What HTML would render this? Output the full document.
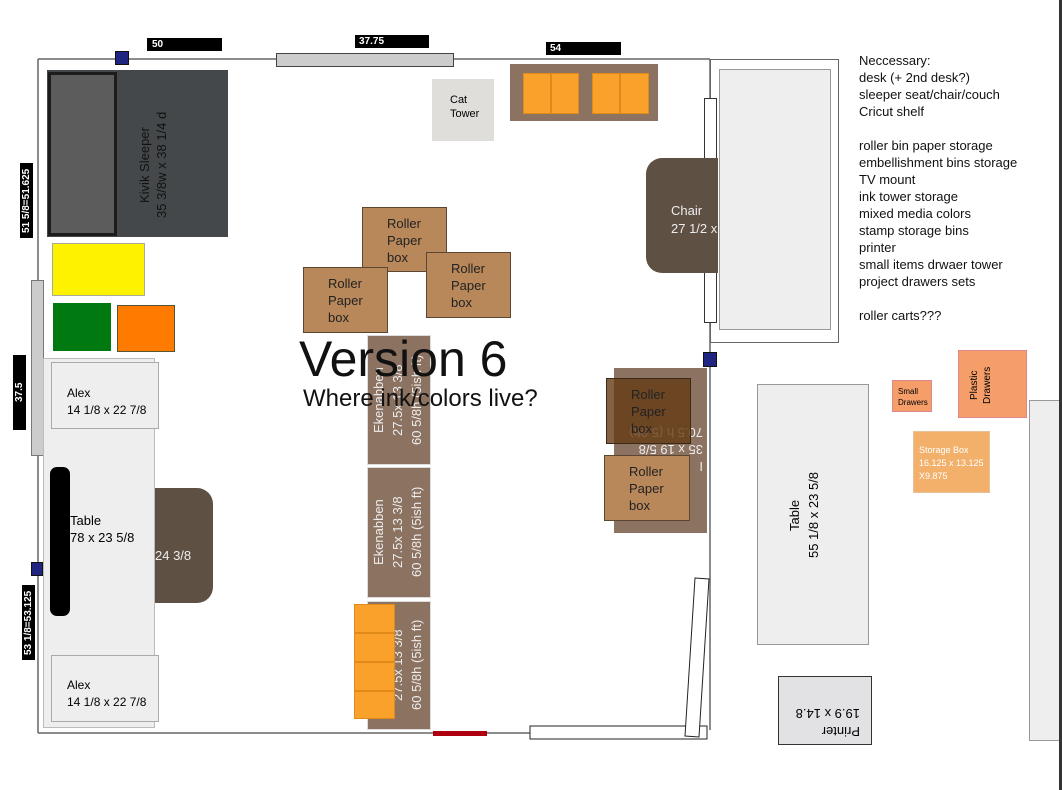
<!DOCTYPE html>
<html><head><meta charset="utf-8"><style>
body{margin:0;width:1062px;height:790px;background:#fff;position:relative;overflow:hidden;font-family:"Liberation Sans",sans-serif;}
div{position:absolute;box-sizing:border-box;}
.lbl{background:#000;color:#fff;font-size:10px;font-weight:bold;line-height:13px;}
.vl{writing-mode:vertical-rl;transform:rotate(180deg);text-align:center;}
.roll{background:#b8885a;border:1px solid #5b4632;color:#222;font-size:13px;line-height:17px;padding:7px 0 0 24px;}
.ek{background:#8b7261;border:1px solid #ddd;}
.or{background:#f9a12b;border:1px solid #e08a1a;}
.t{white-space:nowrap;}
</style></head><body>
<svg style="position:absolute;left:0;top:0" width="1062" height="790">
<g stroke="#666" stroke-width="1.5" fill="none">
<line x1="38" y1="59" x2="710" y2="59"/>
<line x1="38" y1="59" x2="38" y2="733"/>
<line x1="38" y1="733" x2="530" y2="733"/>
<line x1="710" y1="59" x2="710" y2="730"/>
</g>
<rect x="530" y="726" width="177" height="13" fill="#fff" stroke="#222" stroke-width="1"/>
<polygon points="695,578 709,579 699,737 685,736" fill="#fff" stroke="#222" stroke-width="1"/>
<rect x="433" y="731" width="54" height="5" fill="#b00010"/>
</svg>
<div class="lbl" style="left:147px;top:38px;width:75px;height:13px;padding-left:5px">50</div>
<div style="left:115px;top:51px;width:14px;height:14px;background:#1f2580;border:1px solid #111"></div>
<div style="left:276px;top:53px;width:178px;height:14px;background:#ccc;border:1px solid #444"></div>
<div class="lbl" style="left:355px;top:35px;width:74px;padding-left:4px">37.75</div>
<div class="lbl" style="left:546px;top:42px;width:75px;padding-left:4px">54</div>
<div style="left:47px;top:70px;width:181px;height:167px;background:#45484a"></div>
<div style="left:48px;top:72px;width:69px;height:164px;background:#5c5c5c;border:3px solid #1c1c1c"></div>
<div class="vl t" style="left:136px;top:100px;width:36px;height:130px;font-size:13px;line-height:17px;color:#111">Kivik Sleeper<br>35 3/8w x 38 1/4 d</div>
<div class="lbl vl t" style="left:20px;top:163px;width:13px;height:75px">51 5/8=51.625</div>
<div style="left:52px;top:243px;width:93px;height:53px;background:#fff200;border:1px solid #aa9"></div>
<div style="left:53px;top:303px;width:58px;height:48px;background:#007a10"></div>
<div style="left:117px;top:305px;width:58px;height:47px;background:#ff7b00;border:1px solid #553"></div>
<div style="left:31px;top:280px;width:13px;height:176px;background:#ccc;border:1px solid #777"></div>
<div class="lbl vl t" style="left:13px;top:355px;width:13px;height:75px">37.5</div>
<div style="left:43px;top:358px;width:112px;height:370px;background:#eee;border:1px solid #bbb"></div>
<div style="left:51px;top:362px;width:108px;height:67px;background:#eee;border:1px solid #aaa;font-size:12px;line-height:17px;padding:22px 0 0 15px" class="t">Alex<br>14 1/8 x 22 7/8</div>
<div style="left:51px;top:655px;width:108px;height:67px;background:#eee;border:1px solid #aaa;font-size:12px;line-height:17px;padding:21px 0 0 15px" class="t">Alex<br>14 1/8 x 22 7/8</div>
<div style="left:50px;top:467px;width:20px;height:149px;background:#000;border-radius:7px"></div>
<div class="t" style="left:70px;top:512px;font-size:13px;line-height:17px">Table<br>78 x 23 5/8</div>
<div style="left:155px;top:488px;width:58px;height:115px;background:#5e5043;border-radius:0 16px 16px 0;color:#eee;font-size:13px;padding-top:60px" class="t">24 3/8</div>
<div style="left:31px;top:562px;width:12px;height:14px;background:#1f2580;border:1px solid #111"></div>
<div class="lbl vl t" style="left:22px;top:585px;width:13px;height:75px">53 1/8=53.125</div>

<div style="left:432px;top:79px;width:62px;height:62px;background:#dfdedb;font-size:11px;line-height:14px;padding:14px 0 0 18px" class="t">Cat<br>Tower</div>
<div style="left:510px;top:64px;width:148px;height:57px;background:#8b7261"></div>
<div class="or" style="left:523px;top:73px;width:28px;height:41px"></div>
<div class="or" style="left:551px;top:73px;width:28px;height:41px"></div>
<div class="or" style="left:592px;top:73px;width:28px;height:41px"></div>
<div class="or" style="left:620px;top:73px;width:29px;height:41px"></div>

<div class="roll t" style="left:362px;top:207px;width:85px;height:65px">Roller<br>Paper<br>box</div>
<div class="roll t" style="left:303px;top:267px;width:85px;height:66px">Roller<br>Paper<br>box</div>
<div class="roll t" style="left:426px;top:252px;width:85px;height:66px">Roller<br>Paper<br>box</div>

<div class="ek" style="left:367px;top:335px;width:64px;height:130px"></div>
<div class="ek" style="left:367px;top:467px;width:64px;height:131px"></div>
<div class="ek" style="left:367px;top:601px;width:64px;height:129px"></div>
<div class="vl t" style="left:369px;top:340px;width:60px;height:120px;color:#eee;font-size:13px;line-height:19px">Ekenabben<br>27.5x 13 3/8<br>60 5/8h (5ish ft)</div>
<div class="vl t" style="left:369px;top:472px;width:60px;height:120px;color:#eee;font-size:13px;line-height:19px">Ekenabben<br>27.5x 13 3/8<br>60 5/8h (5ish ft)</div>
<div class="vl t" style="left:369px;top:605px;width:60px;height:120px;color:#eee;font-size:13px;line-height:19px">Ekenabben<br>27.5x 13 3/8<br>60 5/8h (5ish ft)</div>
<div class="or" style="left:354px;top:604px;width:41px;height:29px"></div>
<div class="or" style="left:354px;top:633px;width:41px;height:29px"></div>
<div class="or" style="left:354px;top:662px;width:41px;height:29px"></div>
<div class="or" style="left:354px;top:691px;width:41px;height:28px"></div>

<div class="t" style="left:299px;top:330px;font-size:50px;line-height:58px;color:#111">Version 6</div>
<div class="t" style="left:303px;top:385px;font-size:24px;line-height:28px;color:#111">Where ink/colors live?</div>

<div style="left:710px;top:59px;width:129px;height:284px;border:1.5px solid #666;background:#fff"></div>
<div style="left:719px;top:69px;width:112px;height:261px;background:#eee;border:1px solid #999"></div>
<div style="left:704px;top:98px;width:13px;height:225px;background:#fff;border:1px solid #333"></div>
<div style="left:646px;top:158px;width:72px;height:115px;background:#5e5043;border-radius:16px 0 0 16px;color:#eee;font-size:13px;line-height:18px;padding:44px 0 0 25px;overflow:hidden" class="t">Chair<br>27 1/2 x</div>
<div style="left:703px;top:352px;width:14px;height:15px;background:#1f2580;border:1px solid #111"></div>

<div style="left:614px;top:368px;width:93px;height:165px;background:#8b7261"></div>
<div class="t" style="left:614px;top:420px;width:93px;height:55px;transform:rotate(180deg);color:#eee;font-size:13px;line-height:17px;text-align:left;padding-left:4px;overflow:hidden">I<br>35 x 19 5/8<br>70.5 h (5.9ft)</div>
<div style="left:606px;top:378px;width:85px;height:66px;background:rgba(100,58,20,0.8);border:1px solid #3a2a1a;color:#222;font-size:13px;line-height:17px;padding:7px 0 0 24px" class="t">Roller<br>Paper<br>box</div>
<div class="roll t" style="left:604px;top:455px;width:86px;height:66px">Roller<br>Paper<br>box</div>

<div style="left:757px;top:384px;width:112px;height:261px;background:#eee;border:1px solid #999"></div>
<div class="vl t" style="left:785px;top:440px;width:40px;height:150px;font-size:13px;line-height:19px">Table<br>55 1/8 x 23 5/8</div>
<div style="left:778px;top:676px;width:94px;height:69px;background:#e2e2e4;border:1px solid #333"></div>
<div class="t" style="left:780px;top:700px;width:90px;height:40px;transform:rotate(180deg);font-size:13px;line-height:18px;padding-left:10px">Printer<br>19.9 x 14.8</div>
<div style="left:892px;top:380px;width:40px;height:32px;background:#f59e6a;border:1px solid #d88;font-size:8px;line-height:11px;padding:5px 0 0 5px" class="t">Small<br>Drawers</div>
<div style="left:958px;top:350px;width:69px;height:68px;background:#f59e6a;border:1px solid #d88"></div>
<div class="vl t" style="left:968px;top:360px;width:30px;height:50px;font-size:10px;line-height:13px">Plastic<br>Drawers</div>
<div style="left:913px;top:431px;width:77px;height:62px;background:#f2b06b;border:1px solid #e8c09a;color:#fff;font-size:9px;line-height:13px;padding:12px 0 0 5px" class="t">Storage Box<br>16.125 x 13.125<br>X9.875</div>
<div style="left:1029px;top:400px;width:31px;height:341px;background:#eee;border:1px solid #999"></div>
<div style="left:1059px;top:0;width:3px;height:790px;background:#333"></div>

<div class="t" style="left:859px;top:52px;font-size:13px;line-height:17px;color:#111">Neccessary:<br>desk (+ 2nd desk?)<br>sleeper seat/chair/couch<br>Cricut shelf<br><br>roller bin paper storage<br>embellishment bins storage<br>TV mount<br>ink tower storage<br>mixed media colors<br>stamp storage bins<br>printer<br>small items drwaer tower<br>project drawers sets<br><br>roller carts???</div>
</body></html>
